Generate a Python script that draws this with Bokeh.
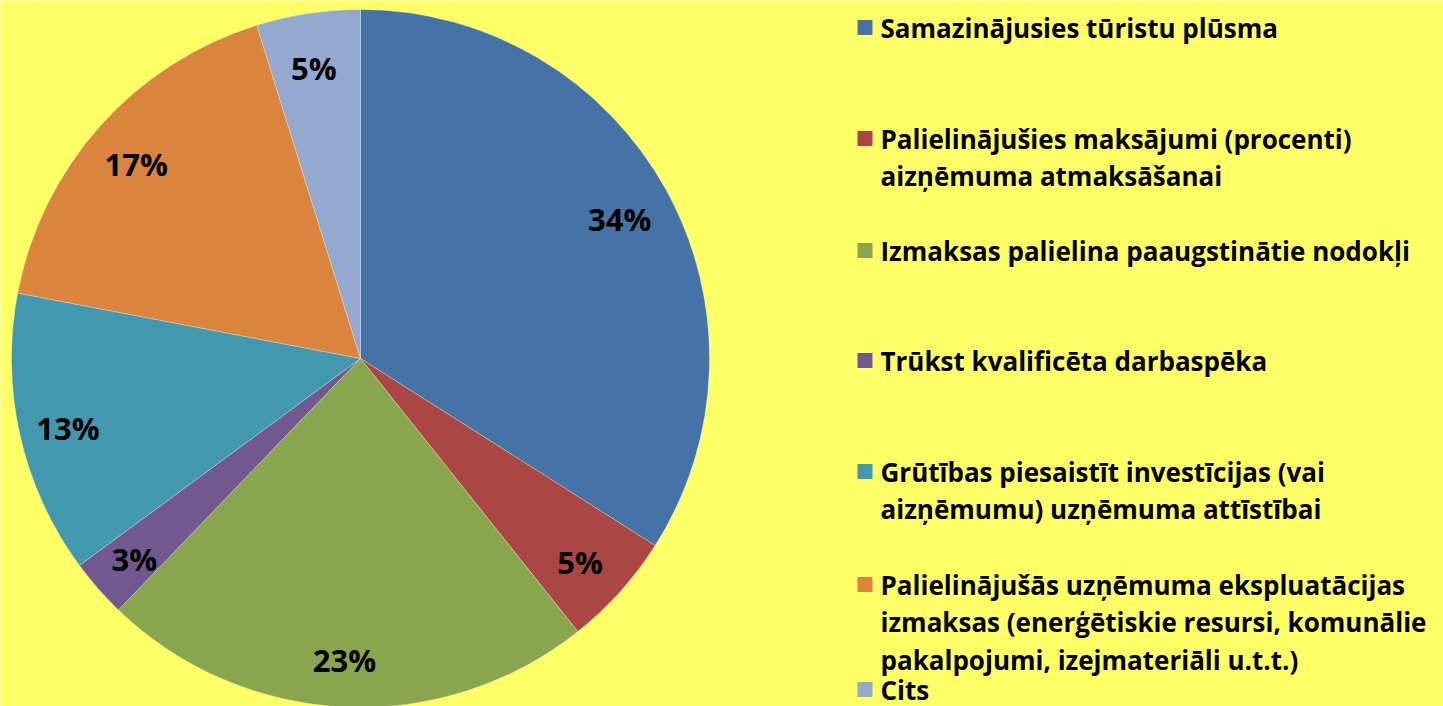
import math
from bokeh.plotting import figure
from bokeh.models import Range1d, ColumnDataSource
from bokeh.core.properties import value
from bokeh.embed import file_html
from bokeh.resources import INLINE

# ---- data ----
categories = [
    "Samazinājusies tūristu plūsma",
    "Palielinājušies maksājumi (procenti)\naizņēmuma atmaksāšanai",
    "Izmaksas palielina paaugstinātie nodokļi",
    "Trūkst kvalificēta darbaspēka",
    "Grūtības piesaistīt investīcijas (vai\naizņēmumu) uzņēmuma attīstībai",
    "Palielinājušās uzņēmuma ekspluatācijas\nizmaksas (enerģētiskie resursi, komunālie\npakalpojumi, izejmateriāli u.t.t.)",
    "Cits",
]
shares = [34.0, 5.3, 22.9, 2.7, 13.1, 17.2, 4.8]
colors = ["#4572A7", "#AA4643", "#89A54E", "#71588F", "#4198AF", "#DB843D", "#93A9CF"]

# ---- layout (picture pixels -> data units) ----
W, H = 1443, 706
def dy(screen_y):
    return H - screen_y
def dx(screen_x):
    return screen_x

BG = "#FFFF66"
p = figure(width=W, height=H, output_backend="svg", toolbar_location=None,
           x_range=Range1d(0, W), y_range=Range1d(0, H), min_border=0,
           background_fill_color=BG, border_fill_color=BG, outline_line_color=None)
p.axis.visible = False
p.grid.visible = False

cx, cy, R = dx(360), dy(358), 349
total = sum(shares)
starts, ends, lx, ly, labels = [], [], [], [], []
cum = 0.0
for s in shares:
    a0 = math.pi / 2 - 2 * math.pi * cum / total
    cum += s
    a1 = math.pi / 2 - 2 * math.pi * cum / total
    starts.append(a0)
    ends.append(a1)
    mid = (a0 + a1) / 2
    lx.append(cx + 298 * math.cos(mid) - 2)
    ly.append(cy + 298 * math.sin(mid) - 4)
    labels.append(f"{round(s / total * 100):d}%")

src = ColumnDataSource(dict(start=starts, end=ends, color=colors, x=lx, y=ly, label=labels))
p.wedge(x=cx, y=cy, radius=R, start_angle="start", end_angle="end", direction="clock",
        fill_color="color", line_color="white", line_alpha=0.35, line_width=0.8, source=src)
p.text(x="x", y="y", text="label", source=src, text_align="center", text_baseline="middle",
       text_font=value("Open Sans"), text_font_style="bold", text_font_size="31px",
       text_color="black")

# ---- legend (manual, to match spacing) ----
item_centers = [27, 138, 250, 360, 471, 584, 689]
line_step = 37.5
tx, ty, tt = [], [], []
sx, sy = [], []
for cat, c in zip(categories, item_centers):
    for i, line in enumerate(cat.split("\n")):
        tx.append(dx(880))
        ty.append(dy(c + i * line_step))
        tt.append(line)
    sx.append(dx(864.5))
    sy.append(dy(c))

p.scatter(x=sx, y=sy, marker="square", size=15, fill_color=colors, line_color=None)
p.text(x=tx, y=ty, text=tt, text_align="left", text_baseline="middle",
       text_font=value("Open Sans"), text_font_style="bold", text_font_size="26px",
       text_color="black")

open("out.html", "w").write(file_html(p, INLINE))
